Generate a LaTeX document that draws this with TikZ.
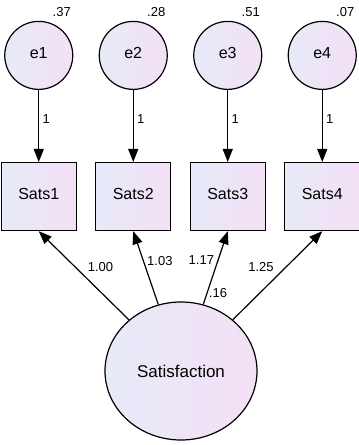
\documentclass[tikz,border=0pt]{standalone}
\usepackage{fontspec}
\setmainfont{Liberation Sans}
\usetikzlibrary{matrix,arrows.meta,shapes.geometric}
\definecolor{semblue}{RGB}{231,234,248}
\definecolor{sempink}{RGB}{244,224,246}
\tikzset{
latent/.style={circle,draw,left color=semblue,right color=sempink,
  minimum size=68pt,inner sep=0pt,font=\fontsize{16}{19}\selectfont},
observed/.style={rectangle,draw,left color=semblue,right color=sempink,
  minimum width=75pt,minimum height=68pt,inner sep=0pt,font=\fontsize{16}{19}\selectfont},
numlbl/.style={font=\fontsize{13}{15}\selectfont},
varlbl/.style={numlbl,anchor=south,xshift=23pt}
}
\begin{document}
\begin{tikzpicture}[x=1pt,y=1pt,>={Triangle[length=13pt,width=10pt]},line width=1.2pt]
\useasboundingbox (0,0) rectangle (359,445);
\matrix(m)[matrix of nodes,
row sep=72pt, column sep=18.3pt,
text height=1.5ex, text depth=0.25ex,
row 1/.style={nodes=latent}, row 2/.style={nodes=observed}] at (180.5,319)
{
e1 & e2 & e3 & e4 \\
Sats1 & Sats2 & Sats3 & Sats4 \\};
\node[latent,ellipse,minimum width=152pt,minimum height=138pt,
  font=\fontsize{17}{20}\selectfont] (sat) at (181,74) {Satisfaction};
% variances
\node[varlbl] (v1) at (m-1-1.north) {.37};
\node[varlbl] (v2) at (m-1-2.north) {.28};
\node[varlbl] (v3) at (m-1-3.north) {.51};
\node[varlbl] (v4) at (m-1-4.north) {.07};
\node[varlbl,xshift=14pt] (vs) at (sat.north) {.16};
\path[->]
(m-1-1) edge node[numlbl,right,pos=.4]{1} (m-2-1)
(m-1-2) edge node[numlbl,right,pos=.4]{1} (m-2-2)
(m-1-3) edge node[numlbl,right,pos=.4]{1} (m-2-3)
(m-1-4) edge node[numlbl,right,pos=.4]{1} (m-2-4)
(sat) edge node[numlbl,above right]{1.00} (m-2-1.south)
(sat) edge node[numlbl,right,pos=.6]{1.03} (m-2-2.south)
(sat) edge node[numlbl,left,pos=.6]{1.17} (m-2-3.south)
(sat) edge node[numlbl,above left]{1.25} (m-2-4.south);
\end{tikzpicture}
\end{document}
